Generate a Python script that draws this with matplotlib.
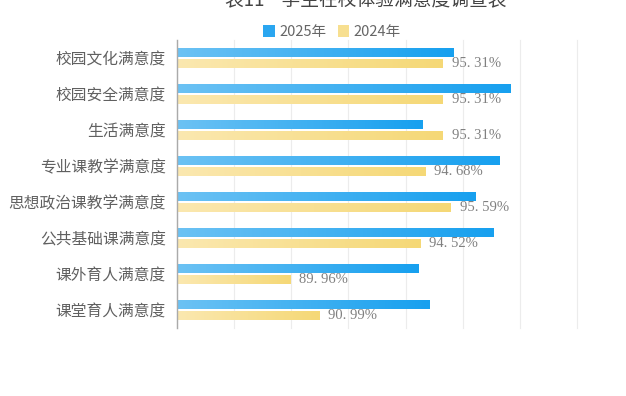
import numpy as np
import matplotlib
matplotlib.use("Agg")
import matplotlib.pyplot as plt
from matplotlib.colors import LinearSegmentedColormap
from matplotlib.patches import Patch

plt.rcParams['font.family'] = ['Noto Sans CJK SC', 'DejaVu Sans']

title = "表11    学生在校体验满意度调查表"
categories = ["校园文化满意度", "校园安全满意度", "生活满意度", "专业课教学满意度",
              "思想政治课教学满意度", "公共基础课满意度", "课外育人满意度", "课堂育人满意度"]
vals_2025 = [95.68, 97.68, 94.59, 97.30, 96.45, 97.09, 94.45, 94.84]
vals_2024 = [95.31, 95.31, 95.31, 94.68, 95.59, 94.52, 89.96, 90.99]
series_names = ["2025年", "2024年"]

x_min, x_max = 86, 100

blue_cmap = LinearSegmentedColormap.from_list("b", ["#6cc2f4", "#17a0ef"])
yellow_cmap = LinearSegmentedColormap.from_list("y", ["#fbe8b0", "#f5d876"])

fig = plt.figure(figsize=(6.26, 3.96), dpi=100)
ax = fig.add_axes([177 / 626, 1 - 328 / 396, 400 / 626, 288 / 396])

y = np.arange(len(categories))
h = 0.265
grad = np.linspace(0, 1, 256).reshape(1, -1)


def gradient_bars(values, offset, cmap):
    bars = ax.barh(y + offset, np.array(values) - x_min, left=x_min, height=h,
                   color="none", edgecolor="none", zorder=2)
    for b in bars:
        x0, y0 = b.get_x(), b.get_y()
        im = ax.imshow(grad, cmap=cmap, aspect="auto", zorder=2,
                       extent=[x0, x0 + b.get_width(), y0 + b.get_height(), y0])
        im.set_clip_path(b)
    return bars


gradient_bars(vals_2025, -h / 2 - 0.015, blue_cmap)
bars24 = gradient_bars(vals_2024, h / 2 + 0.015, yellow_cmap)

for b, v in zip(bars24, vals_2024):
    s = f"{v:.2f}%".replace(".", ". ")
    ax.text(b.get_x() + b.get_width() + 0.3, b.get_y() + b.get_height() / 2, s,
            va="center", ha="left", fontsize=10.5, color="#808080",
            family="Liberation Serif")

ax.set_xlim(x_min, x_max)
ax.set_ylim(len(categories) - 0.5, -0.5)
ax.set_xticks(np.arange(x_min, x_max + 1, 2))
ax.set_xticklabels([])
ax.tick_params(axis="x", length=0)
ax.tick_params(axis="y", length=0, pad=8, labelsize=11.3, labelcolor="#606060")
ax.set_yticks(y)
ax.set_yticklabels(categories)
ax.grid(axis="x", color="#ececec", linewidth=0.8, zorder=0)
for gl in ax.get_xgridlines():
    gl.set_clip_on(False)
ax.set_axisbelow(True)
for side in ["top", "right", "bottom"]:
    ax.spines[side].set_visible(False)
ax.spines["left"].set_color("#aaaaaa")
ax.spines["left"].set_linewidth(1.0)

fig.text(366 / 626, 1 - 1 / 396, title, ha="center", va="center",
         fontsize=13.5, color="#444444")

handles = [Patch(facecolor="#2aa6f0", edgecolor="none"),
           Patch(facecolor="#f7df90", edgecolor="none")]
fig.legend(handles, series_names, loc="center", bbox_to_anchor=(332 / 626, 1 - 32 / 396),
           ncol=2, frameon=False, fontsize=10.5, labelcolor="#666666",
           handlelength=0.8, handleheight=0.8, handletextpad=0.3, columnspacing=0.8)

fig.savefig("out.png", dpi=100)
